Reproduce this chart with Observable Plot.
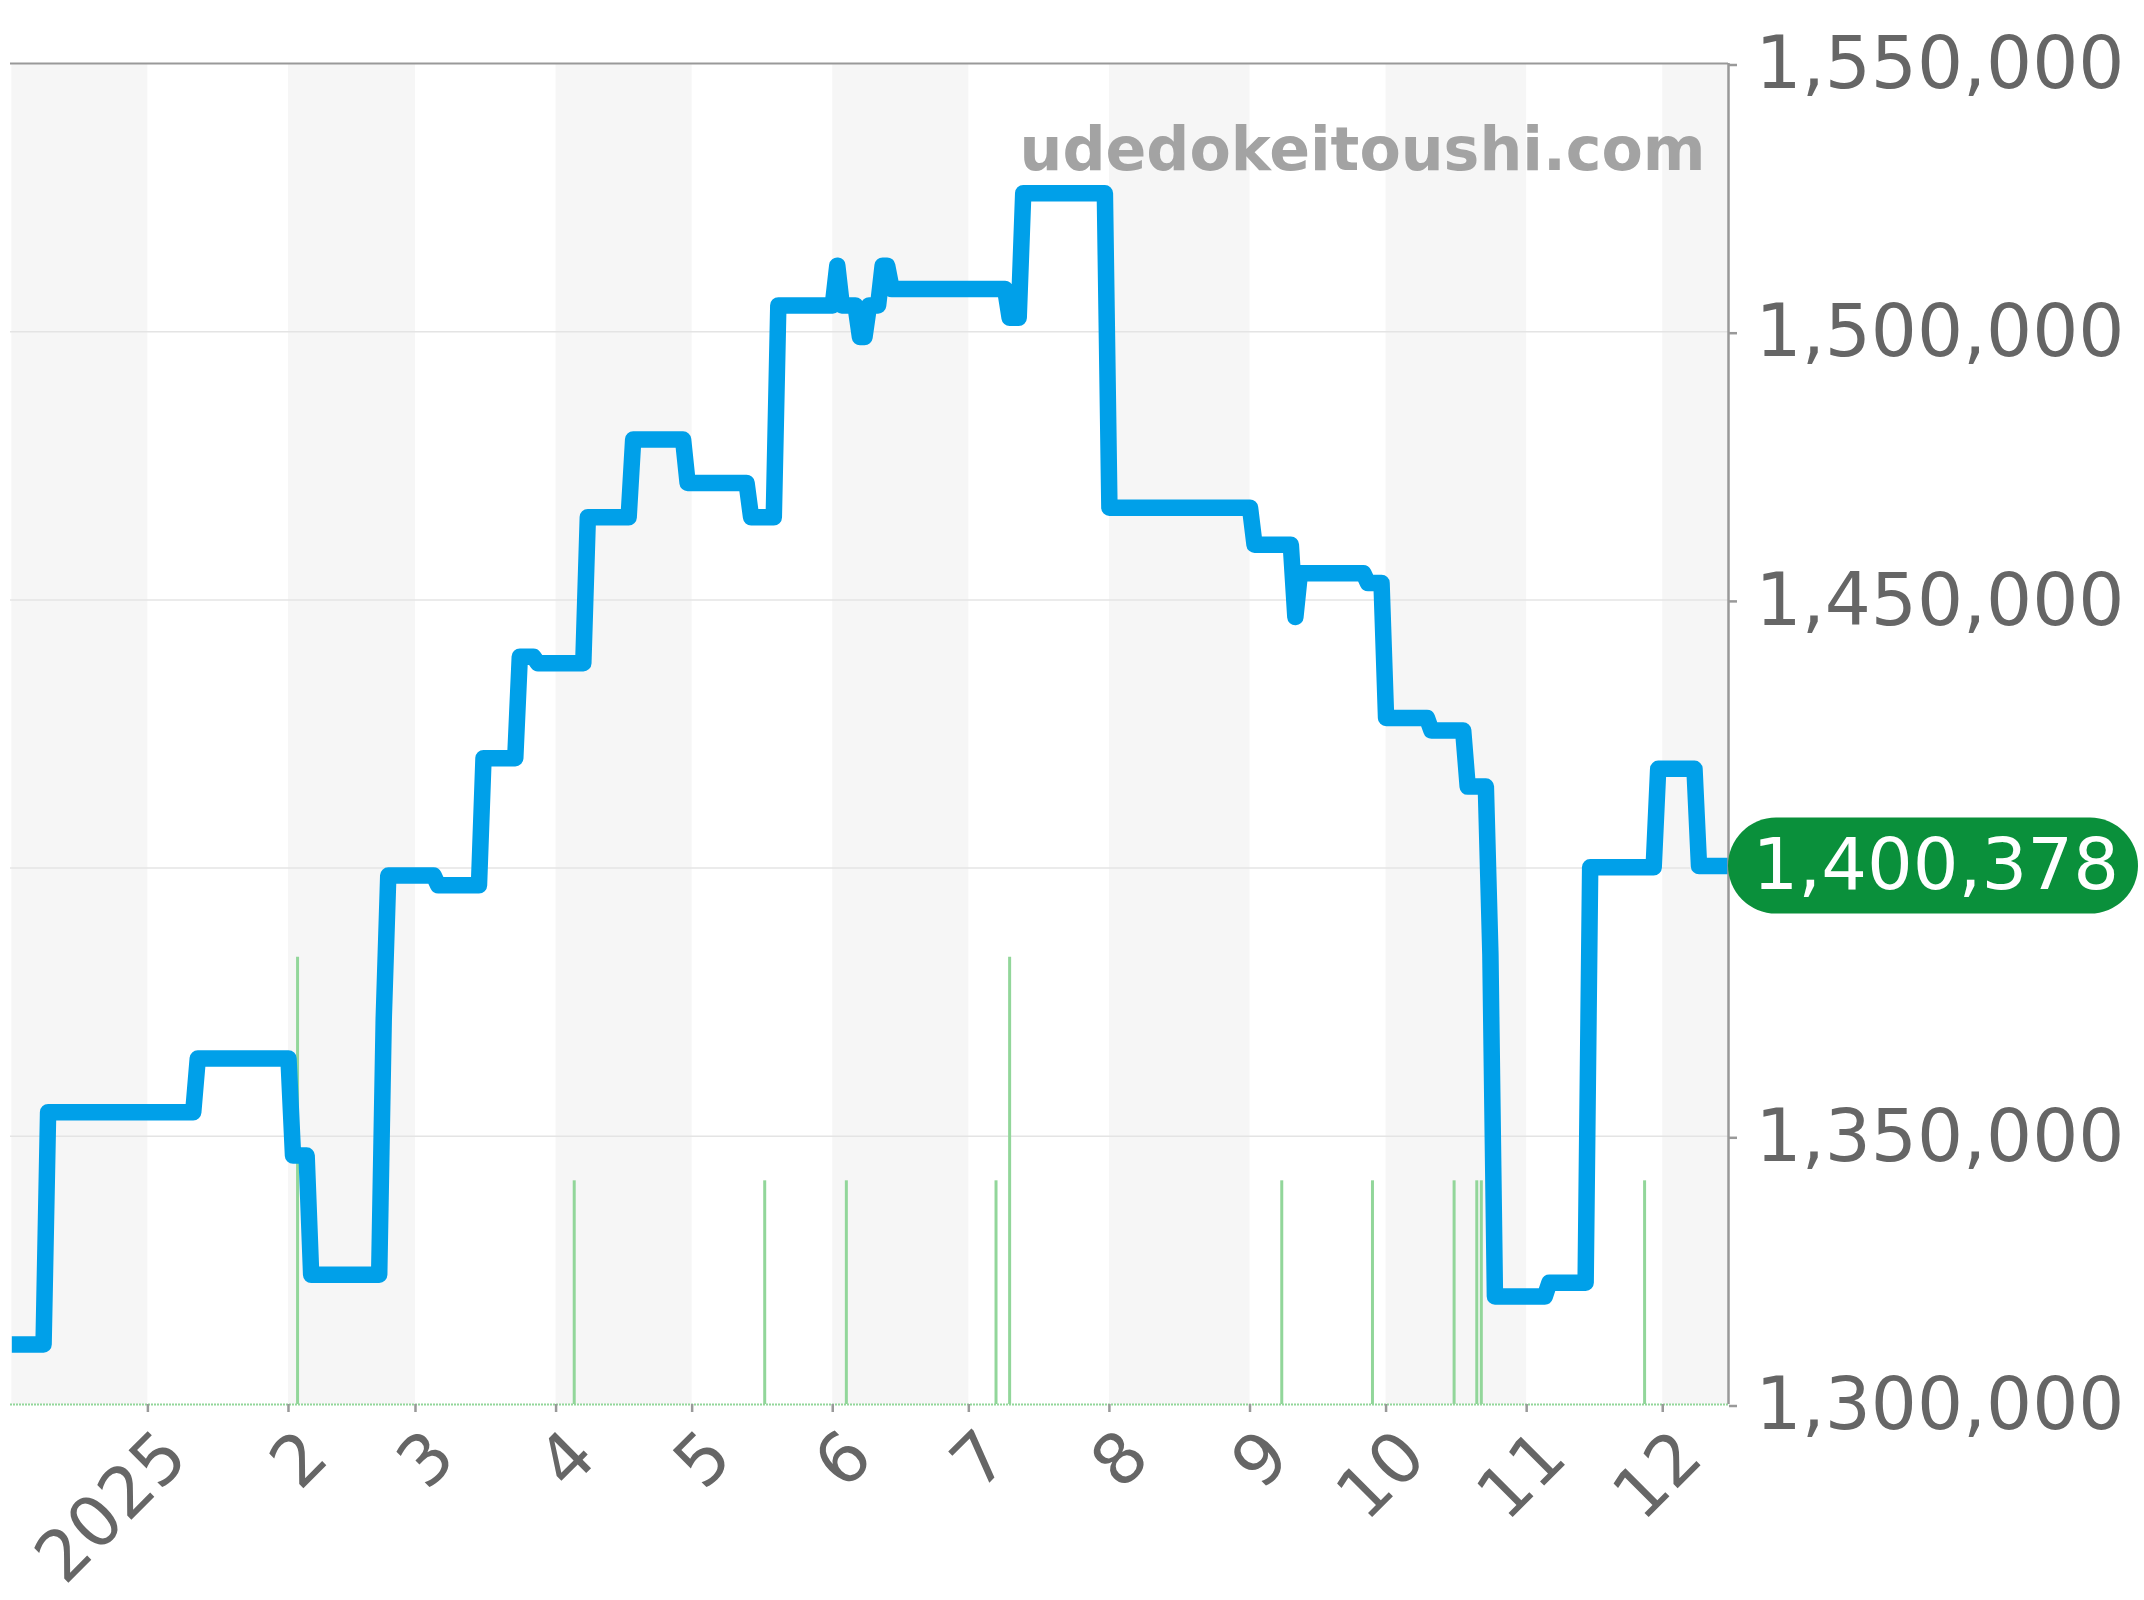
<!DOCTYPE html>
<html><head><meta charset="utf-8">
<style>html,body{margin:0;padding:0;background:#fff}svg{display:block}</style>
<script src="https://cdn.jsdelivr.net/npm/d3@7"></script>
<script src="https://cdn.jsdelivr.net/npm/@observablehq/plot@0.6"></script>
</head><body><div id="chart"></div>
<script>
const priceDates = ["2024-12-02","2024-12-09","2024-12-10","2025-01-11","2025-01-12","2025-02-01","2025-02-02","2025-02-05","2025-02-06","2025-02-21","2025-02-22","2025-02-23","2025-03-05","2025-03-06","2025-03-15","2025-03-16","2025-03-23","2025-03-24","2025-03-27","2025-03-28","2025-04-07","2025-04-08","2025-04-17","2025-04-18","2025-04-29","2025-04-30","2025-05-13","2025-05-14","2025-05-19","2025-05-20","2025-06-01","2025-06-02","2025-06-03","2025-06-06","2025-06-07","2025-06-08","2025-06-09","2025-06-11","2025-06-12","2025-06-13","2025-06-14","2025-07-09","2025-07-10","2025-07-12","2025-07-13","2025-07-31","2025-08-01","2025-09-01","2025-09-02","2025-09-10","2025-09-11","2025-09-12","2025-09-26","2025-09-27","2025-09-30","2025-10-01","2025-10-10","2025-10-11","2025-10-18","2025-10-19","2025-10-23","2025-10-24","2025-10-25","2025-11-05","2025-11-06","2025-11-14","2025-11-15","2025-11-29","2025-11-30","2025-12-08","2025-12-09","2025-12-16"];
const priceValues = [1311200,1311200,1354500,1354500,1364500,1364500,1346400,1346400,1324200,1324200,1371900,1398600,1398600,1396800,1396800,1420500,1420500,1439400,1439400,1438200,1438200,1465400,1465400,1479900,1479900,1471800,1471800,1465400,1465400,1504900,1504900,1512300,1504900,1504900,1499000,1499000,1504900,1504900,1512300,1512300,1507950,1507950,1502600,1502600,1525800,1525800,1467200,1467200,1460300,1460300,1446800,1454950,1454950,1453150,1453150,1428000,1428000,1425650,1425650,1415200,1415200,1384000,1320150,1320150,1322700,1322700,1400150,1400150,1418500,1418500,1400378,1400378];
const saleDates = ["2025-02-03","2025-04-05","2025-05-17","2025-06-04","2025-07-07","2025-07-10","2025-09-08","2025-09-28","2025-10-16","2025-10-21","2025-10-22","2025-11-27"];
const saleCounts = [2,1,1,1,1,2,1,1,1,1,1,1];
const monthStarts = ["2025-01-01","2025-02-01","2025-03-01","2025-04-01","2025-05-01","2025-06-01","2025-07-01","2025-08-01","2025-09-01","2025-10-01","2025-11-01","2025-12-01"];
const monthLabels = ["2025","2","3","4","5","6","7","8","9","10","11","12"];
const bandStarts = ["2024-12-02","2025-02-01","2025-04-01","2025-06-01","2025-08-01","2025-10-01","2025-12-01"];
const bandEnds = ["2025-01-01","2025-03-01","2025-05-01","2025-07-01","2025-09-01","2025-11-01","2025-12-16"];
const yTicks = [1300000,1350000,1400000,1450000,1500000,1550000];
const yLabelled = [1300000,1350000,1450000,1500000,1550000];
const currentPrice = 1400378;
const saleUnit = 41700;

const D = s => new Date(s);
const line = priceDates.map((d,i)=>({date:D(d),price:priceValues[i]}));
const bands = bandStarts.map((d,i)=>({a:D(d),b:D(bandEnds[i])}));
const sales = saleDates.map((d,i)=>({date:D(d),top:yTicks[0]+saleCounts[i]*saleUnit}));
const xStart = D("2024-12-01T17:00Z"), xEnd = D("2025-12-15T12:00Z");
const ticks = monthStarts.map(D);
const FONT = "'DejaVu Sans'";

const pill = (index, {y}, values, {width, marginRight}) => {
  const g = d3.create("svg:g");
  g.append("rect").attr("x",width-marginRight).attr("y",y(currentPrice)-48)
    .attr("width",410).attr("height",96).attr("rx",48).attr("ry",48).attr("fill","#0a903b");
  return g.node();
};

const plot = Plot.plot({
  width:2144,height:1600,marginLeft:10,marginRight:416,marginTop:63,marginBottom:196,
  style:{fontFamily:FONT,background:"#fff"},
  x:{type:"utc",domain:[xStart,xEnd]},
  y:{domain:[1300000,1550000]},
  marks:[
    Plot.rectX(bands,{x1:"a",x2:"b",y1:yTicks[0],y2:yTicks[5],fill:"#f6f6f6",clip:true}),
    Plot.ruleY(yTicks.slice(1,5),{stroke:"#e4e4e4",strokeWidth:1.5}),
    Plot.ruleX(sales,{x:"date",y1:yTicks[0],y2:"top",stroke:"#92d69a",strokeWidth:3}),
    Plot.ruleY([yTicks[0]],{stroke:"#92d69a",strokeWidth:2,strokeDasharray:"2,1"}),
    Plot.line(line,{x:"date",y:"price",stroke:"#00a0e9",strokeWidth:16.5,strokeLinejoin:"round",strokeLinecap:"butt",clip:true}),
    Plot.ruleY([yTicks[5]],{stroke:"#999",strokeWidth:2}),
    Plot.ruleX([xEnd],{stroke:"#999",strokeWidth:2.5}),
    Plot.axisY({anchor:"right",ticks:yLabelled,tickFormat:d3.format(","),tickSize:8,tickPadding:19,fontSize:72.5,stroke:"#999",strokeWidth:2.5,label:null,textAnchor:"start",fill:"#666",dy:1.5}),
    Plot.axisX({ticks,tickFormat:null,tickSize:8,fill:"none",stroke:"#999",strokeWidth:2.5,label:null}),
    Plot.axisX({ticks,tickFormat:d=>monthLabels[ticks.findIndex(t=>+t===+d)],tickSize:0,tickPadding:34,tickRotate:-45,fontSize:70,fill:"#666",stroke:"none",label:null,dx:27,dy:6}),
    pill,
    Plot.text([currentPrice],{x:xEnd,y:d=>d,text:d=>d3.format(",")(d),fill:"#fff",fontSize:72,textAnchor:"start",dx:24,lineAnchor:"middle"}),
    Plot.text(["udedokeitoushi.com"],{x:xEnd,y:1533800,text:d=>d,fill:"#a3a3a3",fontSize:60.2,fontWeight:"bold",textAnchor:"end",dx:-23,lineAnchor:"middle"})
  ]
});
document.getElementById("chart").appendChild(plot);
</script></body></html>
